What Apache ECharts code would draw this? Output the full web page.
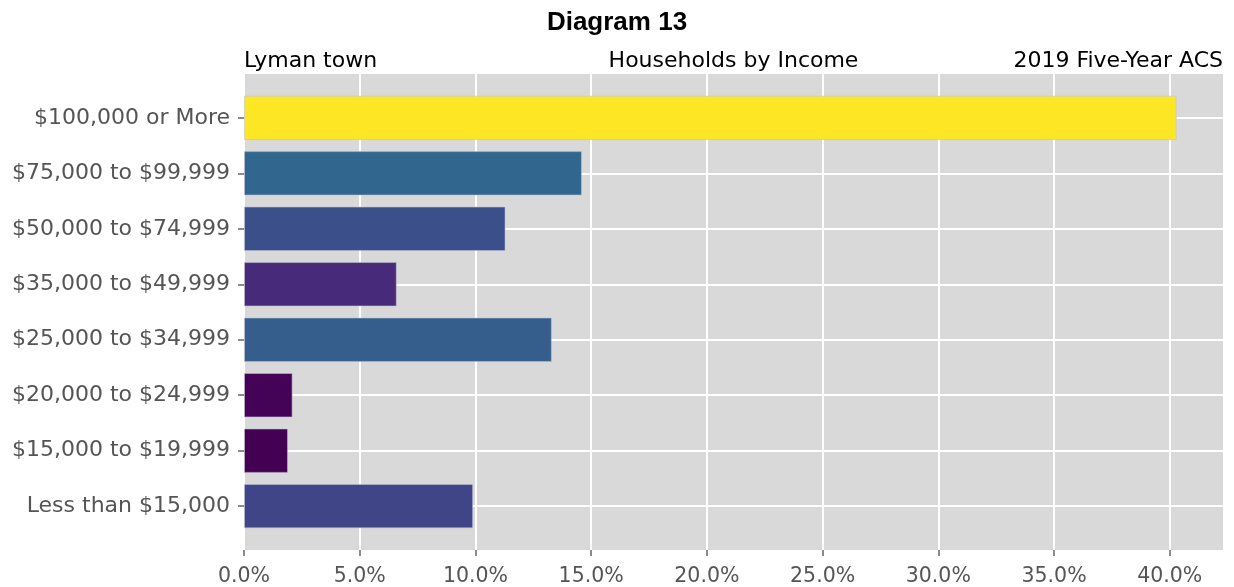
<!DOCTYPE html>
<html>
<head>
<meta charset="utf-8">
<script src="https://cdn.jsdelivr.net/npm/echarts@6/dist/echarts.min.js"></script>
<style>html,body{margin:0;padding:0;background:#fff}#c{width:1234px;height:587px}</style>
</head>
<body>
<div id="c"></div>
<script>
// Categories listed top to bottom
const categories = ['$100,000 or More', '$75,000 to $99,999', '$50,000 to $74,999', '$35,000 to $49,999',
  '$25,000 to $34,999', '$20,000 to $24,999', '$15,000 to $19,999', 'Less than $15,000'];
const shares = [40.3, 14.6, 11.3, 6.6, 13.3, 2.1, 1.9, 9.9];
const xTicks = [0, 5, 10, 15, 20, 25, 30, 35, 40];
const xMax = 42.3;
const mainTitle = 'Diagram 13';
const placeName = 'Lyman town';
const chartSubject = 'Households by Income';
const sourceNote = '2019 Five-Year ACS';
const viridis = ['#440154', '#482878', '#3e4989', '#31688e', '#26828e', '#1f9e89', '#35b779', '#6ece58', '#b5de2b', '#fde725'];

const n = categories.length;
const G = {left: 244, right: 11, top: 74, bottom: 37};
const H = 587 - G.top - G.bottom;
const yMin = -0.79, yMax = (n - 1) + 0.79;
const unit = H / (yMax - yMin);
const innerPad = (0.79 - 0.5) * unit;
const yIdx = categories.map((c, i) => n - 1 - i);

const chart = echarts.init(document.getElementById('c'), null, {renderer: 'canvas'});
const subStyle = {fontFamily: 'DejaVu Sans', fontWeight: 'normal', fontSize: 22, color: '#000'};
chart.setOption({
  animation: false,
  backgroundColor: '#ffffff',
  title: [
    {text: mainTitle, left: 'center', top: 10, padding: 0, textStyle: {fontFamily: 'Liberation Sans', fontWeight: 'bold', fontSize: 26, color: '#000'}},
    {text: placeName, left: G.left, top: 50, padding: 0, textStyle: subStyle},
    {text: chartSubject, left: (G.left + 1234 - G.right) / 2, textAlign: 'center', top: 50, padding: 0, textStyle: subStyle},
    {text: sourceNote, right: G.right, top: 50, padding: 0, textStyle: subStyle}
  ],
  grid: [
    {left: G.left, right: G.right, top: G.top, bottom: G.bottom, show: true, backgroundColor: '#d9d9d9', borderWidth: 0, outerBoundsMode: 'none', containLabel: false},
    {left: G.left, right: G.right, top: G.top + innerPad, bottom: G.bottom + innerPad, show: false, outerBoundsMode: 'none', containLabel: false}
  ],
  xAxis: [
    {type: 'value', gridIndex: 0, min: 0, max: xMax, interval: 5, position: 'bottom',
      axisLine: {show: false, onZero: false},
      axisTick: {show: true, inside: false, length: 6, lineStyle: {color: '#666', width: 1.5}, customValues: xTicks},
      axisLabel: {margin: 16, customValues: xTicks, formatter: v => v.toFixed(1) + '%', color: '#555555', fontSize: 20.5, fontFamily: 'DejaVu Sans'},
      splitLine: {show: true, lineStyle: {color: '#ffffff', width: 2}}},
    {type: 'value', gridIndex: 1, min: 0, max: xMax, show: false, splitLine: {show: false}}
  ],
  yAxis: [
    {type: 'value', gridIndex: 0, min: yMin, max: yMax, position: 'left',
      axisLine: {show: false, onZero: false},
      axisTick: {show: true, inside: false, length: 6, lineStyle: {color: '#666', width: 1.5}, customValues: yIdx},
      axisLabel: {margin: 14, customValues: yIdx, formatter: v => categories[n - 1 - Math.round(v)], color: '#555555', fontSize: 22, fontFamily: 'DejaVu Sans'},
      splitLine: {show: true, lineStyle: {color: '#ffffff', width: 2}}},
    {type: 'category', gridIndex: 1, data: categories, inverse: true, show: false,
      axisTick: {show: false}, axisLabel: {show: false}, splitLine: {show: false}}
  ],
  visualMap: {show: false, type: 'continuous', dimension: 0, seriesIndex: 0,
    min: Math.min(...shares), max: Math.max(...shares), inRange: {color: viridis}},
  series: [{
    type: 'bar', xAxisIndex: 1, yAxisIndex: 1,
    data: shares,
    barCategoryGap: '20%',
    itemStyle: {borderColor: 'rgba(190,190,215,0.55)', borderWidth: 1}
  }]
});
</script>
</body>
</html>
